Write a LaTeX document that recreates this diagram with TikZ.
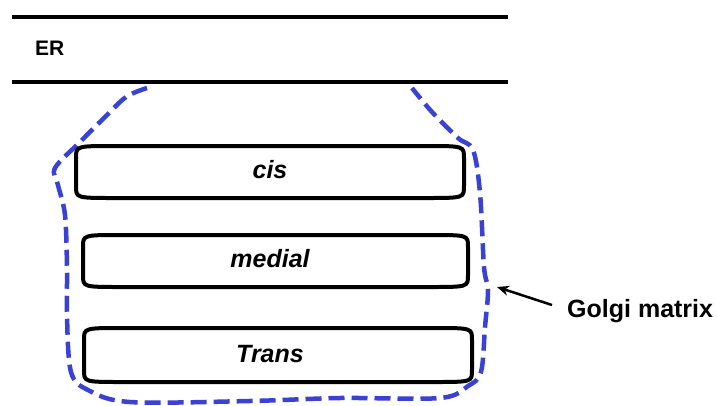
\documentclass[tikz,border=0pt]{standalone}
\usepackage{fontspec}
\setmainfont{Liberation Sans}
\usetikzlibrary{arrows.meta}
\definecolor{golgiblue}{RGB}{58,66,212}
\newcommand\cisternapath[4]{%
  \draw[cisternaline] (#1,#2+12) -- (#1,#4-12) .. controls (#1,#4) .. (#1+38,#4)
    -- (#3-38,#4) .. controls (#3,#4) .. (#3,#4-12)
    -- (#3,#2+12) .. controls (#3,#2) .. (#3-38,#2)
    -- (#1+38,#2) .. controls (#1,#2) .. cycle;}
\begin{document}
\begin{tikzpicture}[x=1pt,y=-1pt,
  erline/.style={line width=4.5pt},
  cisternaline/.style={line width=4pt, line join=round},
  golgiline/.style={golgiblue, line width=4.5pt, dash pattern=on 16pt off 7pt},
  lbl/.style={font=\fontsize{25}{28}\selectfont\bfseries\itshape, inner sep=0pt, anchor=base},
  plain/.style={font=\bfseries, inner sep=0pt, anchor=base west},
  pointer/.style={line width=2.5pt, -{Stealth[length=12pt,width=10pt]}}]
\useasboundingbox (0,0) rectangle (717,405);
\fill[white] (0,0) rectangle (717,405);
% ER
\coordinate (er1a) at (12,17); \coordinate (er1b) at (508,17);
\coordinate (er2a) at (12,82); \coordinate (er2b) at (508,82);
\draw[erline] (er1a) -- (er1b);
\draw[erline] (er2a) -- (er2b);
\node[plain, font=\fontsize{21}{24}\selectfont\bfseries] (er) at (35,55) {ER};
% Golgi matrix outline
\draw[golgiline] plot[smooth, tension=0.55] coordinates {
  (147,88) (126,97) (104,118) (80,142) (55,168) (58,185) (65,215) (67,268)
  (67,317) (71,372) (88,390) (130,402) (250,401) (340,398) (440,398)
  (468,386) (481,372) (485,327) (488,290) (484,267) (480,193) (473,150)
  (458,138) (432,112) (412,88)};
% cisternae
\cisternapath{76}{146}{464}{198}
\cisternapath{83}{235}{468}{287}
\cisternapath{84}{328}{472}{382}
\node[lbl] (cis) at (270,178) {cis};
\node[lbl] (medial) at (270,267) {medial};
\node[lbl] (trans) at (270,362) {Trans};
% label
\node[plain, font=\fontsize{25}{28}\selectfont\bfseries] (golgi) at (567,317) {Golgi matrix};
\coordinate (tail) at (552,305);
\coordinate (tip) at (497,287);
\draw[pointer] (tail) -- (tip);
\end{tikzpicture}
\end{document}
